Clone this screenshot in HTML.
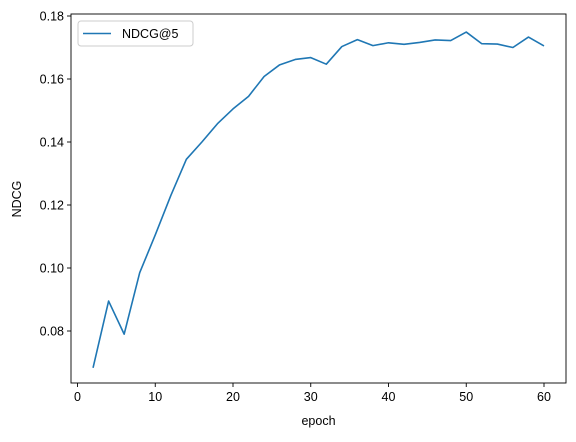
<!DOCTYPE html>
<html><head><meta charset="utf-8"><style>
body{margin:0;background:#fff}
svg text{font-family:"Liberation Sans","DejaVu Sans",sans-serif;font-size:12.5px;fill:#000}
</style></head><body>
<svg id="chart" width="576" height="437" xmlns="http://www.w3.org/2000/svg">
<g id="plot"></g>
</svg>
<script>
const epochs=[2,4,6,8,10,12,14,16,18,20,22,24,26,28,30,32,34,36,38,40,42,44,46,48,50,52,54,56,58,60];
const ndcgValues=[0.0683,0.0895,0.079,0.0985,0.1105,0.123,0.1345,0.140,0.1458,0.1505,0.1545,0.1608,0.1645,0.1662,0.1668,0.1647,0.1703,0.1725,0.1706,0.1715,0.1710,0.1716,0.1724,0.1722,0.1749,0.1712,0.1711,0.1700,0.1733,0.1705];
const xTicks=[0,10,20,30,40,50,60];
const yTicks=[0.08,0.10,0.12,0.14,0.16,0.18];
const yTickLabels=["0.08","0.10","0.12","0.14","0.16","0.18"];
const NS="http://www.w3.org/2000/svg";
const L=71,R=566,T=14,B=383;
function xs(v){return 77.5+v*7.775;}
function ys(v){return 331-(v-0.08)*3150;}
const g=document.getElementById('plot');
function mk(t,a,txt){const e=document.createElementNS(NS,t);for(const k in a)e.setAttribute(k,a[k]);if(txt!==undefined)e.textContent=txt;g.appendChild(e);return e;}
// line
const pts=epochs.map((e,i)=>xs(e).toFixed(2)+","+ys(ndcgValues[i]).toFixed(2)).join(" ");
const line=mk('polyline',{points:pts,fill:'none',stroke:'#1f77b4','stroke-width':1.6,'stroke-linejoin':'round'});


// frame
const fr=mk('rect',{x:L,y:T,width:R-L,height:B-T,fill:'none',stroke:'#000','stroke-width':0.9});


xTicks.forEach(v=>{
  const x=xs(v);
  const tk=mk('line',{x1:x,x2:x,y1:B,y2:B+4,stroke:'#000','stroke-width':0.9});
  
  
  const tl=mk('text',{x:x,y:B+18,'text-anchor':'middle'},String(v));
  
  
});
yTicks.forEach((v,i)=>{
  const y=ys(v);
  const tk=mk('line',{x1:L-4,x2:L,y1:y,y2:y,stroke:'#000','stroke-width':0.9});
  
  
  const tl=mk('text',{x:L-7,y:y+4.5,'text-anchor':'end'},yTickLabels[i]);
  
  
});
const xt=mk('text',{x:(L+R)/2,y:425,'text-anchor':'middle'},'epoch');


const yt=mk('text',{x:0,y:0,'text-anchor':'middle',transform:'translate(21,199) rotate(-90)'},'NDCG');


// legend
const lg=mk('rect',{x:78,y:21,width:115,height:25,rx:3,fill:'#fff',stroke:'#ccc','stroke-width':1});


const ll=mk('line',{x1:83,x2:111,y1:33.5,y2:33.5,stroke:'#1f77b4','stroke-width':1.6});


const lt=mk('text',{x:122,y:38},'NDCG@5');


</script>
</body></html>
